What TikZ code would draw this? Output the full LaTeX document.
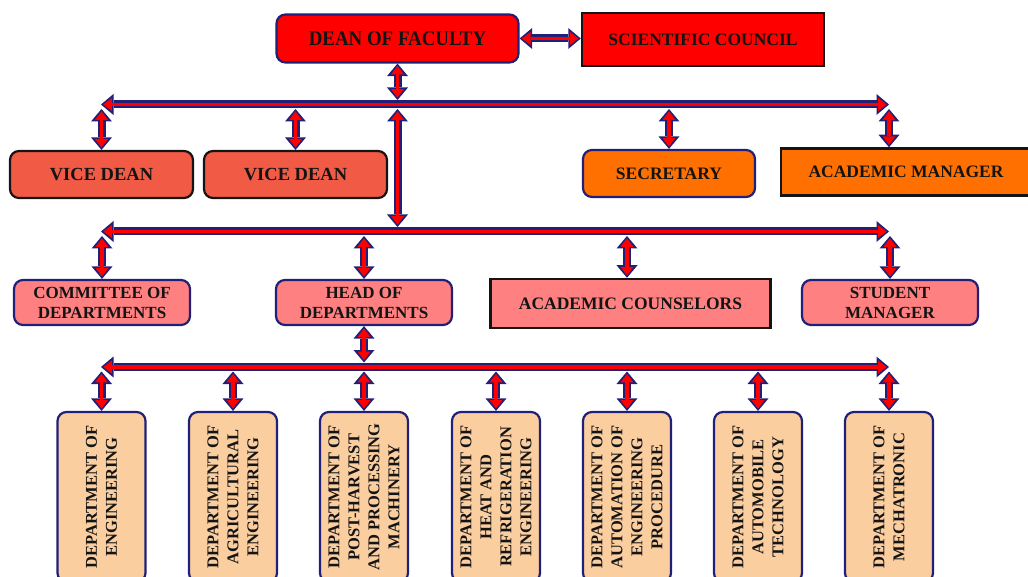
\documentclass[tikz,border=0pt]{standalone}
\usepackage{fontspec}
\setmainfont{Liberation Serif}
\newfontfamily\condfont{Liberation Serif}[FakeStretch=0.9]
\usetikzlibrary{arrows.meta,calc}
\definecolor{navyb}{RGB}{32,32,120}
\definecolor{vdfill}{RGB}{241,90,68}
\definecolor{orfill}{RGB}{255,112,0}
\definecolor{pkfill}{RGB}{255,128,128}
\definecolor{pefill}{RGB}{251,206,160}
\definecolor{txt}{RGB}{20,20,20}
\definecolor{boxblk}{RGB}{20,20,20}
\tikzset{
  box/.style={inner sep=0pt, text=txt, align=center},
  rbox/.style={box, rounded corners=9pt, draw=navyb, line width=2.2pt},
  sbox/.style={box, draw=boxblk, line width=2.5pt},
  arrout/.style={draw=navyb, line width=8pt,
    {Triangle[length=12.5pt,width=21pt,line width=0pt]}-{Triangle[length=12.5pt,width=21pt,line width=0pt]}},
  arrin/.style={draw=red, line width=3.6pt,
    {Triangle[length=8.5pt,width=13pt,line width=0pt]}-{Triangle[length=8.5pt,width=13pt,line width=0pt]},
    shorten <=2.4pt, shorten >=2.4pt},
  dept/.style={rbox, fill=pefill, rotate=90, minimum width=170pt, minimum height=88pt,
    font=\fontsize{16.5}{20}\selectfont\bfseries},
}
\newcommand\blockarr[2]{\draw[arrout] #1 -- #2; \draw[arrin] #1 -- #2;}
\begin{document}
\begin{tikzpicture}[x=1pt,y=-1pt]
\useasboundingbox (0,0) rectangle (1028,577);
\clip (0,0) rectangle (1028,577);
% top row
\node[rbox, fill=red, minimum width=242pt, minimum height=48pt,
  font=\fontsize{21}{24}\selectfont\condfont\bfseries] (dean) at (397.5,38.5) {DEAN OF FACULTY};
\node[sbox, fill=red, minimum width=242pt, minimum height=53pt,
  font=\fontsize{17.5}{20}\selectfont\bfseries] (sci) at (703,39.5) {SCIENTIFIC COUNCIL};
% second row
\node[rbox, draw=boxblk, fill=vdfill, minimum width=183pt, minimum height=47pt,
  font=\fontsize{18.5}{20}\selectfont\bfseries] (vd1) at (101.5,174.5) {VICE DEAN};
\node[rbox, draw=boxblk, fill=vdfill, minimum width=183pt, minimum height=47pt,
  font=\fontsize{18.5}{20}\selectfont\bfseries] (vd2) at (295.5,174.5) {VICE DEAN};
\node[rbox, fill=orfill, minimum width=172pt, minimum height=47pt,
  font=\fontsize{17.5}{20}\selectfont\bfseries] (sec) at (669,173.5) {SECRETARY};
\node[sbox, fill=orfill, minimum width=250pt, minimum height=47pt,
  font=\fontsize{17.5}{20}\selectfont\bfseries] (am) at (906,172) {ACADEMIC MANAGER};
% third row
\node[rbox, fill=pkfill, minimum width=176pt, minimum height=45pt,
  font=\fontsize{17}{20}\selectfont\bfseries] (com) at (102,302.5) {COMMITTEE OF\\DEPARTMENTS};
\node[rbox, fill=pkfill, minimum width=176pt, minimum height=45pt,
  font=\fontsize{17}{20}\selectfont\bfseries] (hod) at (364,302.5) {HEAD OF\\DEPARTMENTS};
\node[sbox, fill=pkfill, minimum width=280pt, minimum height=49pt,
  font=\fontsize{17.5}{20}\selectfont\bfseries] (ac) at (630.5,303.5) {ACADEMIC COUNSELORS};
\node[rbox, fill=pkfill, minimum width=176pt, minimum height=45pt,
  font=\fontsize{17}{20}\selectfont\bfseries] (sm) at (890,302.5) {STUDENT\\MANAGER};
% bottom row
\node[dept] (d1) at (101.5,497) {DEPARTMENT OF\\ENGINEERING};
\node[dept] (d2) at (233,497) {DEPARTMENT OF\\AGRICULTURAL\\ENGINEERING};
\node[dept] (d3) at (364,497) {DEPARTMENT OF\\POST-HARVEST\\AND PROCESSING\\MACHINERY};
\node[dept] (d4) at (496,497) {DEPARTMENT OF\\HEAT AND\\REFRIGERATION\\ENGINEERING};
\node[dept] (d5) at (627,497) {DEPARTMENT OF\\AUTOMATION OF\\ENGINEERING\\PROCEDURE};
\node[dept] (d6) at (758,497) {DEPARTMENT OF\\AUTOMOBILE\\TECHNOLOGY};
\node[dept] (d7) at (889,497) {DEPARTMENT OF\\MECHATRONIC};
% bar coordinates
\coordinate (b1L) at (101,104.5);
\coordinate (b1R) at (889,104.5);
\coordinate (b2L) at (101,231.5);
\coordinate (b2R) at (889,231.5);
\coordinate (b3L) at (101,367);
\coordinate (b3R) at (889,367);
% connectors
\blockarr{(dean.east)}{(dean.east -| sci.west)}
\blockarr{(dean.south)}{($(dean.south |- b1L)+(0,-4.5)$)}
\blockarr{(b1L)}{(b1R)}
\blockarr{($(vd1.north |- b1L)+(0,4.5)$)}{(vd1.north)}
\blockarr{($(vd2.north |- b1L)+(0,4.5)$)}{(vd2.north)}
\blockarr{($(sec.north |- b1L)+(0,4.5)$)}{(sec.north)}
\blockarr{($(b1R)+(0,4.5)$)}{(b1R |- am.north)}
\blockarr{($(dean.south |- b1L)+(0,4.5)$)}{($(dean.south |- b2L)+(0,-4.5)$)}
\blockarr{(b2L)}{(b2R)}
\blockarr{($(com.north |- b2L)+(0,4.5)$)}{(com.north)}
\blockarr{($(hod.north |- b2L)+(0,4.5)$)}{(hod.north)}
\blockarr{($(627,0 |- b2L)+(0,4.5)$)}{(627,0 |- ac.north)}
\blockarr{($(sm.north |- b2L)+(0,4.5)$)}{(sm.north)}
\blockarr{(hod.south)}{($(hod.south |- b3L)+(0,-4.5)$)}
\blockarr{(b3L)}{(b3R)}
\blockarr{($(d1.east |- b3L)+(0,4.5)$)}{(d1.east)}
\blockarr{($(d2.east |- b3L)+(0,4.5)$)}{(d2.east)}
\blockarr{($(d3.east |- b3L)+(0,4.5)$)}{(d3.east)}
\blockarr{($(d4.east |- b3L)+(0,4.5)$)}{(d4.east)}
\blockarr{($(d5.east |- b3L)+(0,4.5)$)}{(d5.east)}
\blockarr{($(d6.east |- b3L)+(0,4.5)$)}{(d6.east)}
\blockarr{($(d7.east |- b3L)+(0,4.5)$)}{(d7.east)}
\end{tikzpicture}
\end{document}
